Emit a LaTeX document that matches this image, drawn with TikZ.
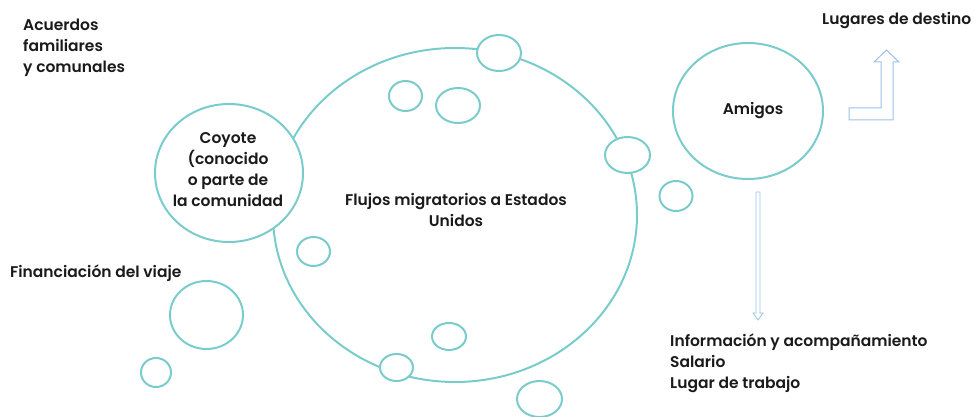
\documentclass[tikz,border=0pt]{standalone}
\usepackage{fontspec}
\setmainfont{Poppins SemiBold}
\definecolor{teal}{RGB}{122,204,204}
\definecolor{arrowblue}{RGB}{157,195,230}
\definecolor{txt}{RGB}{26,26,26}
\begin{document}
\begin{tikzpicture}[x=1pt,y=-1pt,
  ring/.style={draw=teal,line width=2pt},
  lbl/.style={text=txt,inner sep=0pt,font=\fontsize{15.5}{21}\selectfont},
  harrow/.style={draw=arrowblue,line width=1pt,fill=white,line join=miter}]
\useasboundingbox (0,0) rectangle (980,417);
% big circle
\draw[ring] (455,215) ellipse [x radius=182, y radius=167];
% small circles
\draw[ring,fill=white] (499,53) ellipse [x radius=22, y radius=18];
\draw[ring,fill=white] (627.5,155) ellipse [x radius=22.5, y radius=18];
\draw[ring,fill=white] (396.5,367.5) ellipse [x radius=16.5, y radius=13.5];
\draw[ring] (405.5,96) ellipse [x radius=16.5, y radius=15];
\draw[ring] (458,105.5) ellipse [x radius=22, y radius=17.5];
\draw[ring] (676,196) ellipse [x radius=16.5, y radius=15];
\draw[ring] (313.5,251.5) ellipse [x radius=16.5, y radius=14.5];
\draw[ring] (206.5,315) ellipse [x radius=36.5, y radius=34];
\draw[ring] (156,372.5) ellipse [x radius=15, y radius=14.5];
\draw[ring] (449,336.5) ellipse [x radius=17, y radius=13.5];
\draw[ring] (539.5,399) ellipse [x radius=22.5, y radius=18];
% coyote circle
\draw[ring,fill=white] (229,173) ellipse [x radius=74, y radius=69];
% amigos circle
\draw[ring] (748,111) ellipse [x radius=75, y radius=68];
% arrows
\draw[harrow] (849,108) -- (881,108) -- (881,62) -- (874,62) -- (886.5,50) -- (899,62) -- (893,62) -- (893,120) -- (849,120) -- cycle;
\draw[harrow,line width=0.8pt] (756,192) -- (760,192) -- (760,313) -- (763,313) -- (758,320) -- (753,313) -- (756,313) -- cycle;
% texts
\node[lbl,align=left,anchor=north west] (acuerdos) at (23,19) {Acuerdos\\familiares\\y comunales};
\node[lbl,align=center] (coyote) at (228,170) {Coyote\\(conocido\\o parte de\\la comunidad};
\node[lbl,align=center] (flujos) at (456,210) {Flujos migratorios a Estados\\Unidos};
\node[lbl] (amigos) at (753,111) {Amigos};
\node[lbl,anchor=west] (lugares) at (822,21) {Lugares de destino};
\node[lbl,anchor=west] (financ) at (10,273) {Financiación del viaje};
\node[lbl,align=left,anchor=north west] (info) at (670,334) {Información y acompañamiento\\Salario\\Lugar de trabajo};
\end{tikzpicture}
\end{document}
